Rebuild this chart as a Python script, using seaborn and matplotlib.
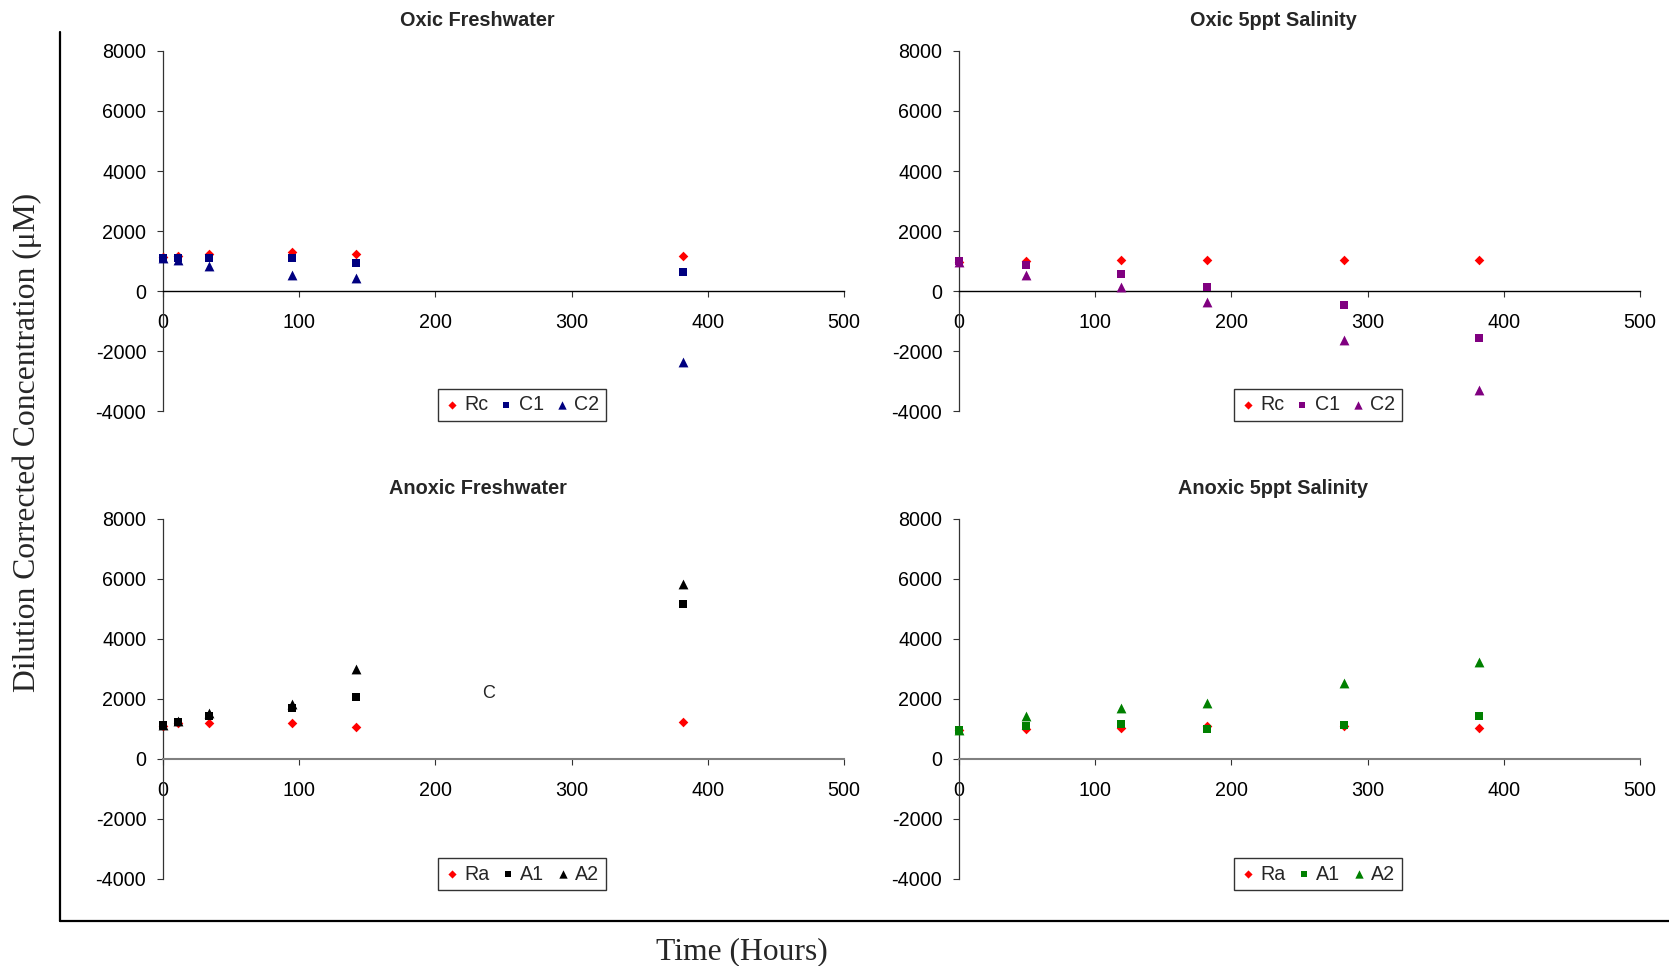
import numpy as np
import pandas as pd
import matplotlib
matplotlib.use("Agg")
import matplotlib.pyplot as plt
from matplotlib.lines import Line2D
import seaborn as sns

# Tempos de amostragem (horas)
t_fresh = [0, 11, 34, 95, 142, 382]
t_salt = [0, 49, 119, 182, 283, 382]

# Oxic Freshwater
oxf_rc = [1120, 1175, 1230, 1300, 1220, 1170]
oxf_c1 = [1100, 1085, 1095, 1095, 950, 650]
oxf_c2 = [1100, 1030, 820, 540, 450, -2380]

# Oxic 5ppt Salinity
oxs_rc = [980, 1010, 1040, 1040, 1040, 1040]
oxs_c1 = [1000, 870, 570, 135, -470, -1580]
oxs_c2 = [970, 540, 135, -360, -1620, -3290]

# Anoxic Freshwater
anf_ra = [1110, 1195, 1205, 1205, 1070, 1250]
anf_a1 = [1125, 1225, 1450, 1690, 2075, 5160]
anf_a2 = [1125, 1270, 1525, 1845, 3000, 5850]

# Anoxic 5ppt Salinity
ans_ra = [965, 1010, 1045, 1095, 1095, 1020]
ans_a1 = [975, 1100, 1175, 1000, 1130, 1430]
ans_a2 = [965, 1440, 1700, 1865, 2550, 3240]

sns.set_style("ticks")
plt.rcParams['font.family'] = ['Liberation Sans', 'DejaVu Sans']
plt.rcParams['axes.unicode_minus'] = False

fig = plt.figure(figsize=(16.69, 9.66), dpi=100)

W = 1669
H = 966

def fx(px):
    return px / W

def fy(py):
    return 1 - py / H

paineis = [
    # titulo, tempos, series, cor, caixa do eixo (px), titulo (px), legenda (px), cor do eixo x
    ("Oxic Freshwater", t_fresh, [("Rc", oxf_rc), ("C1", oxf_c1), ("C2", oxf_c2)],
     "#000080", (163, 51, 844, 411), (477, 20), (522, 405), "black"),
    ("Oxic 5ppt Salinity", t_salt, [("Rc", oxs_rc), ("C1", oxs_c1), ("C2", oxs_c2)],
     "#800080", (959, 51, 1640, 411), (1273, 20), (1318, 405), "black"),
    ("Anoxic Freshwater", t_fresh, [("Ra", anf_ra), ("A1", anf_a1), ("A2", anf_a2)],
     "black", (163, 519, 844, 879), (478, 488), (522, 874), "#808080"),
    ("Anoxic 5ppt Salinity", t_salt, [("Ra", ans_ra), ("A1", ans_a1), ("A2", ans_a2)],
     "#008000", (959, 519, 1640, 879), (1273, 488), (1318, 874), "#808080"),
]

marcadores = ["D", "s", "^"]
tamanhos = [24, 32, 50]

for titulo, tempos, series, cor, caixa, pos_tit, pos_leg, cor_x in paineis:
    x0, y0, x1, y1 = caixa
    ax = fig.add_axes([fx(x0), fy(y1), fx(x1 - x0), (y1 - y0) / H])
    for i, (nome, valores) in enumerate(series):
        df = pd.DataFrame({"t": tempos, "v": valores})
        c = "#FF0000" if i == 0 else cor
        sns.scatterplot(data=df, x="t", y="v", marker=marcadores[i], s=tamanhos[i],
                        color=c, linewidth=0, ax=ax, label=nome, zorder=3 + i)
    for coll in ax.collections:
        coll.set_clip_on(False)
    if ax.get_legend() is not None:
        ax.get_legend().remove()

    ax.set_xlim(0, 500)
    ax.set_ylim(-4000, 8000)
    ax.set_xticks(np.arange(0, 501, 100))
    ax.set_yticks(np.arange(-4000, 8001, 2000))
    ax.set_xlabel("")
    ax.set_ylabel("")
    ax.spines['top'].set_visible(False)
    ax.spines['right'].set_visible(False)
    ax.spines['bottom'].set_position(('data', 0))
    ax.spines['bottom'].set_color(cor_x)
    ax.spines['bottom'].set_linewidth(1.0 if cor_x == "black" else 1.5)
    ax.spines['left'].set_color("#333333")
    ax.spines['left'].set_linewidth(0.9)
    ax.tick_params(axis='y', direction='out', length=4.5, width=0.8, pad=7.5,
                   labelsize=14.2, colors="#333333", labelcolor="black")
    ax.tick_params(axis='x', direction='out', length=4.5, width=0.8, pad=11.5,
                   labelsize=14.2, colors="#333333", labelcolor="black")
    ax.patch.set_alpha(0)

    fig.text(fx(pos_tit[0]), fy(pos_tit[1]), titulo, ha='center', va='center',
             fontsize=14.3, fontweight='bold')

    h, l = ax.get_legend_handles_labels()
    leg = fig.legend(h, l, loc='center', bbox_to_anchor=(fx(pos_leg[0]), fy(pos_leg[1])),
                     ncol=3, fontsize=14.1, frameon=True, fancybox=False,
                     edgecolor='black', handlelength=0.75, handletextpad=0.25,
                     columnspacing=0.55, borderpad=0.35, markerscale=0.85,
                     bbox_transform=fig.transFigure)
    leg.get_frame().set_linewidth(1.0)

    if titulo == "Anoxic Freshwater":
        ax.text(239, 2200, "C", ha='center', va='center', fontsize=13)

# moldura externa
fig.add_artist(Line2D([fx(60), fx(60)], [fy(32), fy(921)], color='black',
                      lw=1.6, transform=fig.transFigure))
fig.add_artist(Line2D([fx(60), 1.0], [fy(921), fy(921)], color='black',
                      lw=1.6, transform=fig.transFigure))

fig.text(fx(27), fy(442), "Dilution Corrected Concentration (\u03bcM)", rotation=90,
         ha='center', va='center', fontsize=22.8, family=['Liberation Serif', 'DejaVu Serif'])
fig.text(fx(742), fy(959), "Time (Hours)", ha='center', va='baseline',
         fontsize=22.8, family=['Liberation Serif', 'DejaVu Serif'])

fig.savefig("out.png", dpi=100)
